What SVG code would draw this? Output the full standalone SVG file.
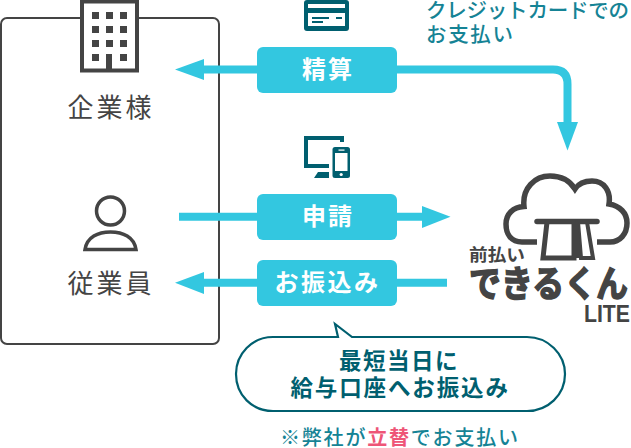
<svg xmlns="http://www.w3.org/2000/svg" width="631" height="448" viewBox="0 0 631 448">
<style>
text{font-family:"Noto Sans CJK JP","Noto Sans",sans-serif}
.lab{font-size:26px;fill:#444;letter-spacing:3px;text-anchor:middle}
.pill{fill:#33c7e0}
.pt{font-size:24px;font-weight:700;fill:#fff;text-anchor:middle;letter-spacing:2px}
.ln{fill:none;stroke:#33c7e0;stroke-width:8}
.head{fill:#33c7e0}
.dk{fill:#005f6f}
.teal{fill:#158395;font-size:20.500px;font-weight:500}
.bub{font-size:22.500px;font-weight:700;fill:#005f6f;text-anchor:middle;letter-spacing:1.500px}
.logo{fill:#444;font-weight:700}
</style>
<g id="company-box">
<rect x="1" y="18" width="218" height="326" rx="6" fill="#fff" stroke="#444" stroke-width="2"/>
</g>
<g id="connectors">
<path class="ln" d="M204 69.500H257"/>
<path class="head" d="M175 69.500L204 59V80Z"/>
<path class="ln" d="M397 69.500H553Q567.500 69.500 567.500 84V123"/>
<path class="head" d="M557 122H578L567.500 150.500Z"/>
<path class="ln" d="M179 216.700H257M397 216.700H423"/>
<path class="head" d="M422 206L450.500 216.700L422 228Z"/>
<path class="ln" d="M204 282.700H257M397 282.700H447"/>
<path class="head" d="M175 282.700L204 272V294Z"/>
</g>
<g id="kigyo">
<rect x="80" y="0" width="59" height="72" fill="#fff"/>
<rect x="82" y="1.500" width="55" height="69" fill="#fff" stroke="#444" stroke-width="4"/>
<g fill="#444">
<rect x="92" y="12" width="7" height="7"/><rect x="106" y="12" width="7" height="7"/><rect x="120" y="12" width="7" height="7"/>
<rect x="92" y="26" width="7" height="7"/><rect x="106" y="26" width="7" height="7"/><rect x="120" y="26" width="7" height="7"/>
<rect x="92" y="40" width="7" height="7"/><rect x="106" y="40" width="7" height="7"/><rect x="120" y="40" width="7" height="7"/>
<rect x="92" y="54" width="7" height="7"/><rect x="106" y="54" width="6" height="16"/><rect x="120" y="54" width="7" height="7"/>
</g>
<text class="lab" x="111" y="117">企業様</text>
</g>
<g id="jugyoin">
<circle cx="110.500" cy="211" r="14" fill="none" stroke="#444" stroke-width="3.500"/>
<path d="M85 249.500C87 237 98 232 110.500 232C123 232 134 237 136 249.500Z" fill="none" stroke="#444" stroke-width="3.500"/>
<text class="lab" x="111" y="293">従業員</text>
</g>
<g id="seisan">
<rect class="pill" x="257" y="47" width="140" height="46" rx="6"/>
<text class="pt" x="328" y="78">精算</text>
<g>
<rect class="dk" x="304" y="0" width="45" height="31" rx="3"/>
<rect x="308" y="4" width="37" height="4" fill="#fff"/>
<rect x="308" y="13" width="37" height="13" fill="#fff"/>
<rect class="dk" x="312" y="17" width="17" height="2"/><rect class="dk" x="312" y="21" width="11" height="2"/><rect class="dk" x="336" y="17" width="6" height="2"/>
</g>
</g>
<g id="shinsei">
<rect class="pill" x="257" y="194" width="140" height="46" rx="6"/>
<text class="pt" x="328" y="225">申請</text>
<g>
<path class="dk" d="M304 136H344V142H340V140H308V164H329V168H304Z"/>
<path class="dk" d="M318 172H329V178H314Z"/>
<rect class="dk" x="332.500" y="147" width="17.500" height="31" rx="2.500"/>
<rect x="335" y="153" width="12.500" height="18" fill="#fff"/>
<circle cx="341.200" cy="174.500" r="1.600" fill="#fff"/>
<rect x="338.500" y="149.500" width="6" height="1.200" fill="#fff"/>
</g>
</g>
<g id="furikomi">
<rect class="pill" x="257" y="260" width="140" height="46" rx="6"/>
<text class="pt" x="327.500" y="291" style="letter-spacing:2.500px">お振込み</text>
</g>
<g id="credit-note">
<text class="teal" x="426" y="18" textLength="203">クレジットカードでの</text>
<text class="teal" x="426" y="42" textLength="87">お支払い</text>
</g>
<g id="logo">
<path d="M537 242H522C511 242 506 234 506 224C506 214 513 207 524 206.500C522 188 535 176 550 176C561 176 570 181 575 189C579 183 586 181 592 181C604 181 611 191 609 204C620 206 627 213 627 223C627 234 620 242 610 242H597" fill="none" stroke="#444" stroke-width="5.500"/>
<path d="M537 221.500H597" stroke="#444" stroke-width="5.500" stroke-linecap="round" fill="none"/>
<path d="M547 222L543 258H574V222" fill="none" stroke="#444" stroke-width="5"/>
<path d="M578 222H587L593 258H581Z" fill="none" stroke="#444" stroke-width="4"/>
<path d="M574 222H578L581 258H574Z" fill="#444"/>
<text class="logo" x="469" y="261" font-size="17" textLength="56" lengthAdjust="spacingAndGlyphs">前払い</text>
<text class="logo" x="469" y="297" font-size="36" stroke="#444" stroke-width="1.500" textLength="159" lengthAdjust="spacingAndGlyphs">できるくん</text>
<text x="584" y="322" font-size="24" style="font-family:'Liberation Sans',sans-serif" class="logo" textLength="46" lengthAdjust="spacingAndGlyphs">LITE</text>
</g>
<g id="bubble">
<path d="M273 337H338L335 324L352 337H527C548 337 565 354 565 374C565 395 548 411 527 411H273C252 411 236 395 236 374C236 354 252 337 273 337Z" fill="#fff" stroke="#005f6f" stroke-width="2.200"/>
<text class="bub" x="399" y="369">最短当日に</text>
<text class="bub" x="400" y="396" textLength="219">給与口座へお振込み</text>
</g>
<g id="footnote">
<text x="280" y="445" textLength="238" style="font-size:20px;font-weight:500;fill:#158395">※弊社が<tspan fill="#ee5577" font-weight="700">立替</tspan>でお支払い</text>
</g>
</svg>
